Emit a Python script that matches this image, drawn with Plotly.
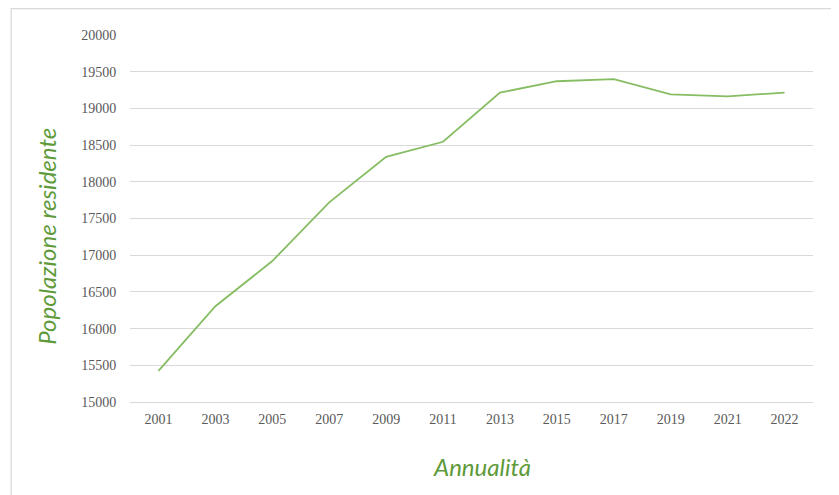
import plotly.graph_objects as go

anni = ["2001", "2003", "2005", "2007", "2009", "2011", "2013", "2015", "2017", "2019", "2021", "2022"]
popolazione = [15425, 16305, 16920, 17720, 18340, 18545, 19215, 19370, 19400, 19190, 19165, 19215]
y_ticks = [15000, 15500, 16000, 16500, 17000, 17500, 18000, 18500, 19000, 19500, 20000]
y_labels = [str(v) for v in y_ticks]

green_title = "#5e9a3a"
line_green = "#86bd63"
grid = "#d9d9d9"

fig = go.Figure()
fig.add_trace(go.Scatter(x=anni, y=popolazione, mode="lines",
                         line=dict(color=line_green, width=1.8), showlegend=False))

fig.update_layout(
    width=831, height=487,
    margin=dict(l=122, r=26, t=27, b=93),
    paper_bgcolor="white", plot_bgcolor="white",
    xaxis=dict(type="category", range=[-0.5, len(anni) - 0.5], showgrid=False,
               showline=True, linecolor=grid, linewidth=1,
               ticks="outside", ticklen=4, tickcolor="rgba(0,0,0,0)",
               tickfont=dict(family="Liberation Serif", size=14, color="#595959")),
    yaxis=dict(range=[15000, 20000], tickvals=y_ticks, ticktext=y_labels,
               showgrid=True, gridcolor=grid, gridwidth=1,
               zeroline=False, showline=False,
               ticks="outside", ticklen=10, tickcolor="rgba(0,0,0,0)",
               tickfont=dict(family="Liberation Serif", size=14, color="#595959")),
    shapes=[dict(type="rect", xref="paper", yref="paper", x0=-0.174, x1=1.2, y0=-0.4, y1=1.072,
                 line=dict(color=grid, width=1.2), fillcolor="rgba(0,0,0,0)", layer="below")],
    annotations=[
        dict(text="<i>Popolazione residente</i>", xref="paper", yref="paper", x=-0.1215, y=0.45,
             textangle=-90, showarrow=False, xanchor="center", yanchor="middle",
             font=dict(family="Lato", size=24, color=green_title)),
        dict(text="<i>Annualità</i>", xref="paper", yref="paper", x=0.515, y=-0.175,
             showarrow=False, xanchor="center", yanchor="middle",
             font=dict(family="Lato", size=24, color=green_title)),
    ],
)

fig.write_html("out.html")
